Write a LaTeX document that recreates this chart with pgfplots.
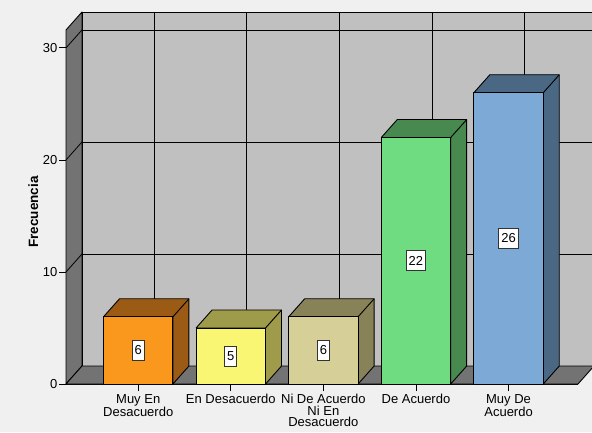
\documentclass[border=0pt]{standalone}
\usepackage{pgfplots}
\pgfplotsset{compat=1.18}
\usepackage{pgfplotstable}
\usepackage{fontspec}
\setmainfont{Liberation Sans}

\definecolor{paper}{HTML}{F0F0F0}
\definecolor{wallback}{HTML}{C0C0C0}
\definecolor{wallside}{HTML}{737373}
\definecolor{c1front}{HTML}{F9981D}\definecolor{c1side}{HTML}{9B5B14}
\definecolor{c2front}{HTML}{F8F672}\definecolor{c2side}{HTML}{9E9C4A}
\definecolor{c3front}{HTML}{D6CF97}\definecolor{c3side}{HTML}{878258}
\definecolor{c4front}{HTML}{6FDC82}\definecolor{c4side}{HTML}{47894F}
\definecolor{c5front}{HTML}{7CA9D6}\definecolor{c5side}{HTML}{4A6784}

% frequency per answer category
\pgfplotstableread{
x v
0 6
1 5
2 6
3 22
4 26
}\freq

% depth of the 3D box in data units, half bar width
\def\dx{0.1728}
\def\dy{1.6068}
\def\hw{0.375}

% one bar: row index, front colour, side/top colour
\newcommand\cubebar[3]{%
  \pgfplotstablegetelem{#1}{x}\of\freq\let\bx\pgfplotsretval
  \pgfplotstablegetelem{#1}{v}\of\freq\let\bv\pgfplotsretval
  \pgfmathsetmacro\xl{\bx-\hw}%
  \pgfmathsetmacro\xr{\bx+\hw}%
  \pgfmathsetmacro\xlb{\xl+\dx}%
  \pgfmathsetmacro\xrb{\xr+\dx}%
  \pgfmathsetmacro\vt{\bv+\dy}%
  \edef\doplot{%
    \noexpand\addplot[fill=#3, draw=black, line width=0.9pt, line join=round, forget plot]
      coordinates {(\xl,\bv) (\xlb,\vt) (\xrb,\vt) (\xrb,\dy) (\xr,0) (\xr,\bv) (\xl,\bv)};
    \noexpand\addplot[draw=black, line width=0.9pt, forget plot]
      coordinates {(\xr,\bv) (\xrb,\vt)};
    \noexpand\addplot[ybar, bar width=0.75, bar shift=0pt, fill=#2, draw=black, line width=0.9pt, forget plot]
      coordinates {(\bx,\bv)};
  }%
  \doplot
}

\begin{document}
\begin{tikzpicture}
\useasboundingbox (0,0) rectangle (592pt,432pt);
\fill[paper] (0,0) rectangle (592pt,432pt);

% back wall with grid
\begin{axis}[
  at={(82pt,66pt)}, anchor=south west,
  scale only axis, width=512pt, height=354pt,
  xmin=-0.78, xmax=4.75, ymin=0, ymax=31.6,
  axis background/.style={fill=wallback},
  axis line style={black, line width=0.9pt},
  xtick={0,...,4}, ytick={0,10,20,30},
  xticklabels={}, yticklabels={},
  major tick length=0pt,
  grid=major, grid style={black, line width=0.8pt},
]
\addplot[draw=none, forget plot] coordinates {(0,0)};
\end{axis}

% front: side wall, floor, bars
\begin{axis}[
  at={(66pt,48pt)}, anchor=south west,
  scale only axis, width=512pt, height=354pt,
  xmin=-0.78, xmax=4.75, ymin=0, ymax=31.6,
  clip=false,
  axis lines*=left,
  axis line style={black, line width=0.9pt},
  tick align=outside, major tick length=7pt,
  tick style={black, line width=0.9pt},
  ytick={0,10,20,30},
  xtick={0,...,4},
  xticklabels={Muy En\\Desacuerdo, En Desacuerdo, Ni De Acuerdo\\Ni En\\Desacuerdo, De Acuerdo, Muy De\\Acuerdo},
  xticklabel style={align=center, font=\fontsize{13}{11.5}\selectfont, inner sep=0pt, yshift=-3pt},
  yticklabel style={font=\fontsize{13}{13}\selectfont, inner sep=1.5pt},
  /pgf/number format/assume math mode=true,
  ylabel={Frecuencia},
  ylabel style={at={(axis description cs:-0.064,0.486)}, anchor=center, font=\bfseries\fontsize{13.5}{15}\selectfont},
]
\fill[wallside, draw=black, line width=0.9pt, line join=round]
  (axis cs:-0.78,0) -- (axis cs:-0.6072,1.6068) -- (axis cs:-0.6072,33.2068) -- (axis cs:-0.78,31.6) -- cycle;
\fill[wallside, draw=black, line width=0.9pt, line join=round]
  (axis cs:-0.78,0) -- (axis cs:4.75,0) -- (axis cs:4.9228,1.6068) -- (axis cs:-0.6072,1.6068) -- cycle;
\foreach \t in {10,20,30}{
  \edef\tmp{\noexpand\draw[black, line width=0.8pt] (axis cs:-0.78,\t) -- (axis cs:-0.6072,\t+1.6068);}\tmp
}

\cubebar{0}{c1front}{c1side}
\cubebar{1}{c2front}{c2side}
\cubebar{2}{c3front}{c3side}
\cubebar{3}{c4front}{c4side}
\cubebar{4}{c5front}{c5side}

% value boxes at half height of each bar
\addplot[draw=none, mark=none, forget plot,
  nodes near coords, point meta=explicit,
  every node near coord/.append style={anchor=center, fill=white, draw=black!80, line width=0.9pt,
    inner xsep=2.5pt, inner ysep=0pt, minimum height=20pt, font=\fontsize{13}{13}\selectfont}]
  table[x=x, y expr=\thisrow{v}/2, meta=v] {\freq};
\end{axis}
\end{tikzpicture}
\end{document}
